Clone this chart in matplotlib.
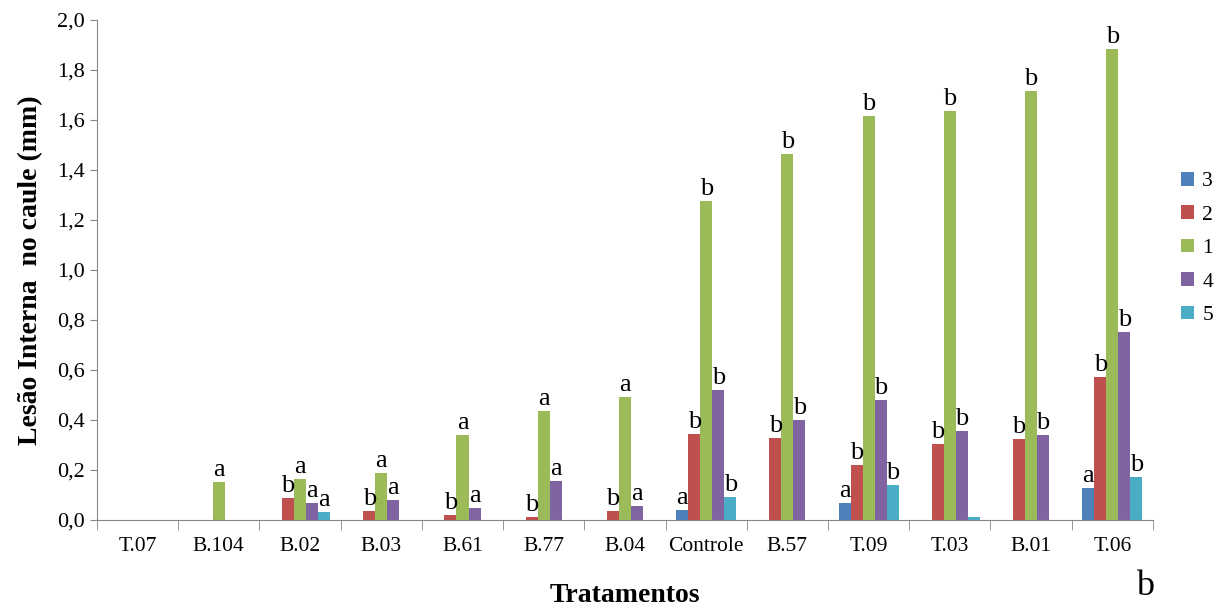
import numpy as np
import matplotlib.pyplot as plt

plt.rcParams['font.family'] = ['Liberation Serif', 'DejaVu Serif']

tratamentos = ['T.07', 'B.104', 'B.02', 'B.03', 'B.61', 'B.77', 'B.04',
               'Controle', 'B.57', 'T.09', 'T.03', 'B.01', 'T.06']
series = ['3', '2', '1', '4', '5']

s3 = [0, 0, 0, 0, 0, 0, 0, 0.040, 0, 0.067, 0, 0, 0.129]
s2 = [0, 0, 0.088, 0.038, 0.022, 0.013, 0.035, 0.344, 0.328, 0.219, 0.303, 0.325, 0.572]
s1 = [0, 0.153, 0.164, 0.188, 0.340, 0.435, 0.492, 1.276, 1.463, 1.617, 1.637, 1.716, 1.883]
s4 = [0, 0, 0.068, 0.080, 0.050, 0.155, 0.056, 0.519, 0.400, 0.480, 0.356, 0.340, 0.752]
s5 = [0, 0, 0.032, 0, 0, 0, 0, 0.091, 0, 0.139, 0.012, 0, 0.173]

# letras de significância (vazio = sem letra)
l3 = ['', '', '', '', '', '', '', 'a', '', 'a', '', '', 'a']
l2 = ['', '', 'b', 'b', 'b', 'b', 'b', 'b', 'b', 'b', 'b', 'b', 'b']
l1 = ['', 'a', 'a', 'a', 'a', 'a', 'a', 'b', 'b', 'b', 'b', 'b', 'b']
l4 = ['', '', 'a', 'a', 'a', 'a', 'a', 'b', 'b', 'b', 'b', 'b', 'b']
l5 = ['', '', 'a', '', '', '', '', 'b', '', 'b', '', '', 'b']

valores = [s3, s2, s1, s4, s5]
letras = [l3, l2, l1, l4, l5]
cores = ['#4F81BD', '#C0504D', '#9BBB59', '#8064A2', '#4BACC6']

fig = plt.figure(figsize=(12.18, 6.07), dpi=100)
ax = fig.add_axes([0.0796, 0.1433, 0.8670, 0.8237])

x = np.arange(len(tratamentos))
w = 0.148
for i, (vals, labs, cor, nome) in enumerate(zip(valores, letras, cores, series)):
    pos = x + (i - 2) * w
    ax.bar(pos, vals, width=w, color=cor, label=nome, zorder=2)
    for px, v, lt in zip(pos, vals, labs):
        if lt:
            ax.text(px, v + 0.004, lt, ha='center', va='bottom', fontsize=19)

ax.set_xlim(-0.5, len(tratamentos) - 0.5)
ax.set_ylim(0, 2.0)
ax.set_yticks(np.arange(0, 2.01, 0.2))
ax.set_yticklabels([('%.1f' % t).replace('.', ',') for t in np.arange(0, 2.01, 0.2)])
ax.set_xticks(x)
ax.set_xticklabels(tratamentos)
ax.set_xticks(np.arange(-0.5, len(tratamentos)), minor=True)
ax.tick_params(axis='x', which='major', length=0, labelsize=15.5, pad=12)
ax.tick_params(axis='x', which='minor', length=7, color='#868686')
ax.tick_params(axis='y', length=5, color='#868686', labelsize=16)

for s in ['top', 'right']:
    ax.spines[s].set_visible(False)
for s in ['left', 'bottom']:
    ax.spines[s].set_color('#868686')

ax.set_ylabel('Lesão Interna  no caule (mm)', fontsize=20, fontweight='bold', labelpad=10)
ax.set_xlabel('Tratamentos', fontsize=20, fontweight='bold', labelpad=20)

ax.legend(loc='center left', bbox_to_anchor=(1.008, 0.543), frameon=False,
          fontsize=15.5, handlelength=0.6, handleheight=0.6, handletextpad=0.4,
          labelspacing=0.65)

fig.text(0.940, 0.02, 'b', fontsize=26, ha='center', va='baseline')

fig.savefig('out.png', dpi=100)
